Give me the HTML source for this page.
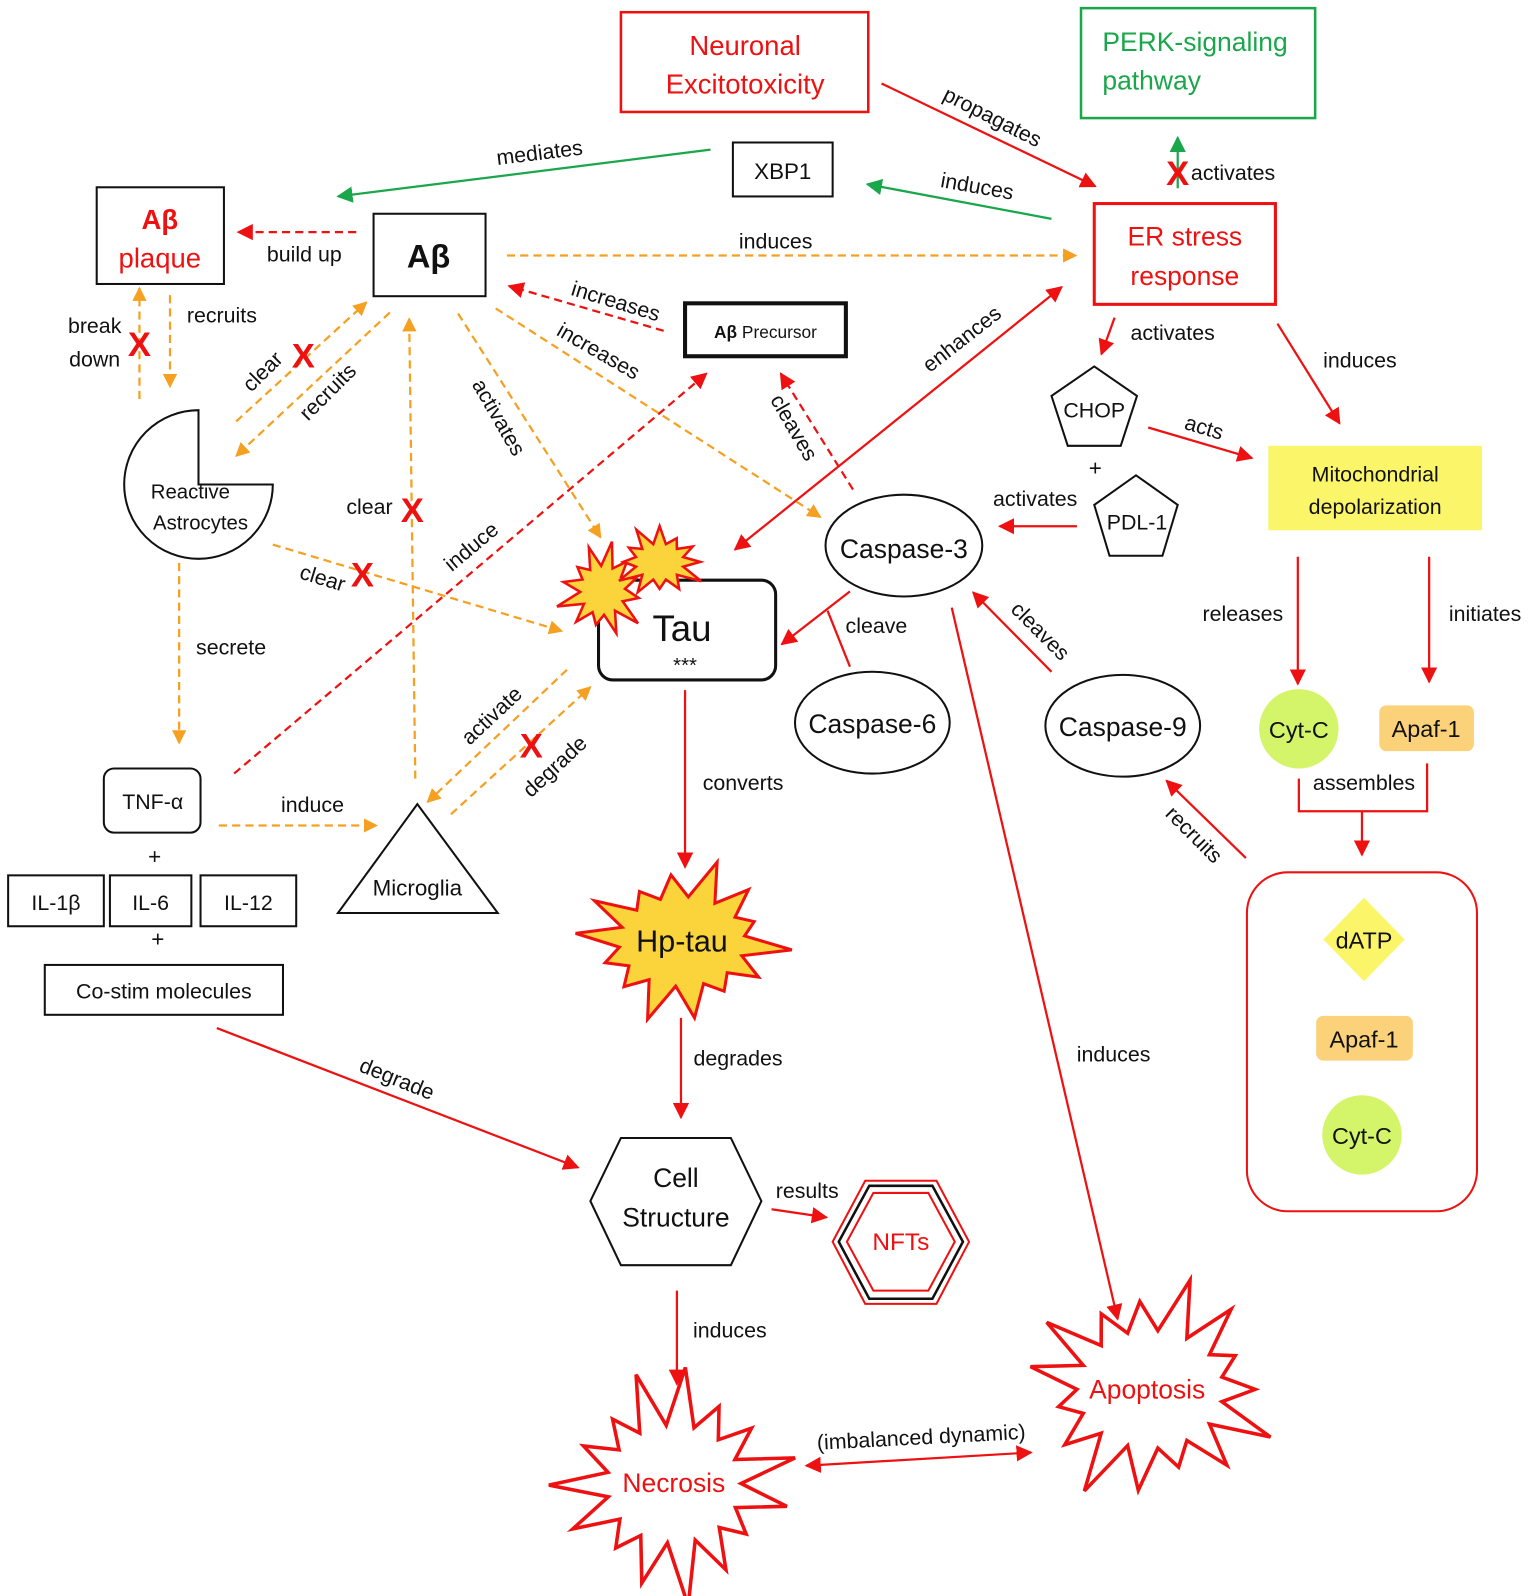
<!DOCTYPE html>
<html><head><meta charset="utf-8"><style>
html,body{margin:0;padding:0;background:#fff}
svg{display:block}
text{font-family:"Liberation Sans",sans-serif;font-size:21px;fill:#111}
.c{text-anchor:middle}
.r{fill:#ee1111}
.g{fill:#1aa64a}
</style></head><body>
<svg id="s" width="1535" height="1596" viewBox="0 0 1508 1568" preserveAspectRatio="none" xmlns="http://www.w3.org/2000/svg">
<defs>
<marker id="mr" viewBox="0 0 10 10" refX="9" refY="5" markerWidth="16" markerHeight="16" markerUnits="userSpaceOnUse" orient="auto-start-reverse"><path d="M0,0L10,5L0,10z" fill="#ee1111"/></marker>
<marker id="mo" viewBox="0 0 10 10" refX="9" refY="5" markerWidth="14" markerHeight="14" markerUnits="userSpaceOnUse" orient="auto-start-reverse"><path d="M0,0L10,5L0,10z" fill="#f5a020"/></marker>
<marker id="mg" viewBox="0 0 10 10" refX="9" refY="5" markerWidth="16" markerHeight="16" markerUnits="userSpaceOnUse" orient="auto-start-reverse"><path d="M0,0L10,5L0,10z" fill="#1aa64a"/></marker>
</defs>
<g fill="none" stroke-width="2.2">
<g stroke="#1aa64a" marker-end="url(#mg)">
<line x1="698" y1="147" x2="332" y2="193"/>
<line x1="1033" y1="215" x2="852" y2="181"/>
<line x1="1157" y1="185" x2="1157" y2="135"/>
</g>
<g stroke="#ee1111" marker-end="url(#mr)">
<line x1="866" y1="82" x2="1076" y2="183"/>
<line x1="1095" y1="312" x2="1082" y2="348"/>
<line x1="1128" y1="420" x2="1230" y2="450"/>
<line x1="1255" y1="318" x2="1316" y2="416"/>
<line x1="1058" y1="517" x2="982" y2="517"/>
<line x1="835" y1="581" x2="768" y2="633"/>
<line x1="1033" y1="660" x2="956" y2="582"/>
<line x1="935" y1="597" x2="1098" y2="1296"/>
<line x1="1224" y1="843" x2="1146" y2="767"/>
<line x1="1275" y1="547" x2="1275" y2="672"/>
<line x1="1404" y1="547" x2="1404" y2="670"/>
<line x1="1338" y1="797" x2="1338" y2="840"/>
<line x1="673" y1="678" x2="673" y2="852"/>
<line x1="669" y1="1000" x2="669" y2="1098"/>
<line x1="213" y1="1010" x2="568" y2="1147"/>
<line x1="758" y1="1188" x2="812" y2="1196"/>
<line x1="665" y1="1268" x2="665" y2="1360"/>
<line x1="722" y1="540" x2="1043" y2="282" marker-start="url(#mr)"/>
<line x1="792" y1="1440" x2="1013" y2="1427" marker-start="url(#mr)"/>
</g>
<path d="M1276 765V797H1402V750" stroke="#ee1111"/>
<line x1="835" y1="655" x2="813" y2="600" stroke="#ee1111"/>
<g stroke="#ee1111" stroke-dasharray="8,5" marker-end="url(#mr)">
<line x1="350" y1="228" x2="234" y2="228"/>
<line x1="652" y1="325" x2="500" y2="281"/>
<line x1="838" y1="481" x2="767" y2="367"/>
<line x1="230" y1="760" x2="694" y2="367"/>
</g>
<g stroke="#f5a020" stroke-dasharray="8,5" marker-end="url(#mo)">
<line x1="498" y1="251" x2="1057" y2="251"/>
<line x1="487" y1="303" x2="806" y2="508"/>
<line x1="450" y1="308" x2="590" y2="528"/>
<line x1="232" y1="414" x2="360" y2="297"/>
<line x1="383" y1="307" x2="232" y2="448"/>
<line x1="137" y1="392" x2="137" y2="283"/>
<line x1="167" y1="290" x2="167" y2="380"/>
<line x1="408" y1="765" x2="402" y2="313"/>
<line x1="268" y1="535" x2="552" y2="620"/>
<line x1="176" y1="553" x2="176" y2="730"/>
<line x1="215" y1="811" x2="370" y2="811"/>
<line x1="557" y1="658" x2="420" y2="788"/>
<line x1="443" y1="800" x2="580" y2="675"/>
</g>
</g>

<g stroke="#111" stroke-width="2" fill="#fff">
<rect x="610" y="12" width="243" height="98" stroke="#ee1111" stroke-width="2.5"/>
<rect x="1062" y="8" width="230" height="108" stroke="#1aa64a" stroke-width="2.5"/>
<rect x="720" y="140" width="98" height="53"/>
<rect x="95" y="184" width="125" height="95"/>
<rect x="367" y="210" width="110" height="81"/>
<rect x="1075" y="200" width="178" height="99" stroke="#ee1111" stroke-width="3"/>
<rect x="673" y="298" width="158" height="52" stroke-width="4"/>
<polygon points="1075,360 1117,389 1101,438 1049,438 1033,389"/>
<polygon points="1116,467 1157,496 1142,546 1090,546 1075,496"/>
<rect x="1246" y="438" width="210" height="83" fill="#fbf56a" stroke="none"/>
<ellipse cx="888" cy="536" rx="77" ry="50"/>
<ellipse cx="857" cy="710" rx="76" ry="50"/>
<ellipse cx="1103" cy="713" rx="76" ry="50"/>
<rect x="588" y="570" width="174" height="98" rx="14" stroke-width="3"/>
<path d="M195,403 A73,73 0 1 0 268,476 L195,476 Z"/>
<rect x="102" y="755" width="95" height="63" rx="10"/>
<rect x="8" y="860" width="94" height="50"/>
<rect x="108" y="860" width="80" height="50"/>
<rect x="197" y="860" width="94" height="50"/>
<rect x="44" y="948" width="234" height="49"/>
<polygon points="410,790 489,897 332,897"/>
<polygon points="580,1180 610,1118 718,1118 748,1180 718,1243 610,1243"/>
<polygon points="818,1220 850,1160 920,1160 952,1220 920,1281 850,1281" stroke="#ee1111"/>
<polygon points="824,1220 854,1165 916,1165 946,1220 916,1276 854,1276" stroke="#111" fill="none" stroke-width="2.5"/>
<polygon points="832,1220 858,1172 912,1172 938,1220 912,1268 858,1268" stroke="#ee1111" fill="none"/>
<circle cx="1276" cy="716" r="39" fill="#d4f56a" stroke="none"/>
<rect x="1355" y="693" width="93" height="45" rx="7" fill="#fbd27a" stroke="none"/>
<rect x="1225" y="857" width="226" height="333" rx="40" stroke="#ee1111"/>
<polygon points="1340,882 1380,923 1340,964 1300,923" fill="#fbf56a" stroke="none"/>
<rect x="1293" y="998" width="95" height="44" rx="7" fill="#fbd27a" stroke="none"/>
<circle cx="1338" cy="1115" r="39" fill="#d4f56a" stroke="none"/>
</g>
<g id="stars"></g>

<text class="c r" x="732" y="54" style="font-size:27px">Neuronal</text>
<text class="c r" x="732" y="92" style="font-size:27px">Excitotoxicity</text>
<text class="g" x="1083" y="50" style="font-size:26px">PERK-signaling</text>
<text class="g" x="1083" y="88" style="font-size:26px">pathway</text>
<text class="c" x="769" y="176" style="font-size:22px">XBP1</text>
<text class="c r" x="157" y="225" style="font-size:27px;font-weight:bold">Aβ</text>
<text class="c r" x="157" y="263" style="font-size:27px">plaque</text>
<text class="c" x="421" y="263" style="font-size:32px;font-weight:bold">Aβ</text>
<text class="c r" x="1164" y="241" style="font-size:26px">ER stress</text>
<text class="c r" x="1164" y="280" style="font-size:26px">response</text>
<text class="c" x="752" y="332" style="font-size:17px"><tspan font-weight="bold">Aβ</tspan> Precursor</text>
<text class="c" x="1075" y="410" style="font-size:21px">CHOP</text>
<text class="c" x="1076" y="467" style="font-size:22px">+</text>
<text class="c" x="1117" y="520" style="font-size:21px">PDL-1</text>
<text class="c" x="1351" y="473" style="font-size:21px">Mitochondrial</text>
<text class="c" x="1351" y="505" style="font-size:21px">depolarization</text>
<text class="c" x="888" y="548" style="font-size:26px">Caspase-3</text>
<text class="c" x="857" y="720" style="font-size:26px">Caspase-6</text>
<text class="c" x="1103" y="723" style="font-size:26px">Caspase-9</text>
<text class="c" x="670" y="630" style="font-size:36px">Tau</text>
<text class="c" x="673" y="660" style="font-size:20px">***</text>
<text class="c" x="187" y="490" style="font-size:20px">Reactive</text>
<text class="c" x="197" y="520" style="font-size:20px">Astrocytes</text>
<text class="c" x="150" y="795" style="font-size:21px">TNF-α</text>
<text class="c" x="152" y="849" style="font-size:22px">+</text>
<text class="c" x="55" y="894" style="font-size:21px">IL-1β</text>
<text class="c" x="148" y="894" style="font-size:21px">IL-6</text>
<text class="c" x="244" y="894" style="font-size:21px">IL-12</text>
<text class="c" x="155" y="930" style="font-size:22px">+</text>
<text class="c" x="161" y="981" style="font-size:21px">Co-stim molecules</text>
<text class="c" x="410" y="880" style="font-size:22px">Microglia</text>
<text class="c" x="664" y="1166" style="font-size:26px">Cell</text>
<text class="c" x="664" y="1205" style="font-size:26px">Structure</text>
<text class="c r" x="885" y="1228" style="font-size:24px">NFTs</text>
<text class="c" x="1276" y="725" style="font-size:23px">Cyt-C</text>
<text class="c" x="1401" y="724" style="font-size:23px">Apaf-1</text>
<text class="c" x="1340" y="932" style="font-size:23px">dATP</text>
<text class="c" x="1340" y="1029" style="font-size:23px">Apaf-1</text>
<text class="c" x="1338" y="1124" style="font-size:23px">Cyt-C</text>

<text class="c" x="530" y="157" transform="rotate(-7 530 150)">mediates</text>
<text class="c" x="960" y="190" transform="rotate(10 960 183)">induces</text>
<text class="c" x="975" y="122" transform="rotate(27 975 115)">propagates</text>
<text x="1170" y="177">activates</text>
<text class="c" x="299" y="257">build up</text>
<text class="c" x="762" y="244">induces</text>
<text class="c" x="605" y="303" transform="rotate(17 605 296)">increases</text>
<text class="c" x="588" y="352" transform="rotate(30 588 345)">increases</text>
<text class="c" x="490" y="417" transform="rotate(60 490 410)">activates</text>
<text class="c" x="780" y="427" transform="rotate(60 780 420)">cleaves</text>
<text class="c" x="945" y="340" transform="rotate(-38 945 333)">enhances</text>
<text class="c" x="463" y="544" transform="rotate(-40 463 537)">induce</text>
<text class="c" x="258" y="372" transform="rotate(-45 258 365)">clear</text>
<text class="c" x="322" y="392" transform="rotate(-45 322 385)">recruits</text>
<text class="c" x="93" y="327">break</text>
<text class="c" x="93" y="360">down</text>
<text class="c" x="218" y="317">recruits</text>
<text class="c" x="363" y="505">clear</text>
<text class="c" x="317" y="575" transform="rotate(17 317 568)">clear</text>
<text class="c" x="227" y="643">secrete</text>
<text class="c" x="307" y="798">induce</text>
<text class="c" x="483" y="710" transform="rotate(-43 483 703)">activate</text>
<text class="c" x="545" y="760" transform="rotate(-43 545 753)">degrade</text>
<text class="c" x="1017" y="497">activates</text>
<text class="c" x="1152" y="334">activates</text>
<text class="c" x="1183" y="427" transform="rotate(17 1183 420)">acts</text>
<text class="c" x="1336" y="361">induces</text>
<text class="c" x="861" y="622">cleave</text>
<text class="c" x="1022" y="627" transform="rotate(45 1022 620)">cleaves</text>
<text class="c" x="1094" y="1043">induces</text>
<text class="c" x="1173" y="827" transform="rotate(45 1173 820)">recruits</text>
<text class="c" x="1221" y="610">releases</text>
<text class="c" x="1459" y="610">initiates</text>
<text class="c" x="1340" y="776">assembles</text>
<text class="c" x="730" y="776">converts</text>
<text class="c" x="725" y="1047">degrades</text>
<text class="c" x="390" y="1067" transform="rotate(22 390 1060)">degrade</text>
<text class="c" x="793" y="1177">results</text>
<text class="c" x="717" y="1314">induces</text>
<text class="c" x="905" y="1419" transform="rotate(-3 905 1412)">(imbalanced dynamic)</text>

<text class="c r" x="1157" y="182" style="font-size:34px;font-weight:bold">X</text>
<text class="c r" x="137" y="350" style="font-size:34px;font-weight:bold">X</text>
<text class="c r" x="298" y="361" style="font-size:34px;font-weight:bold">X</text>
<text class="c r" x="405" y="513" style="font-size:34px;font-weight:bold">X</text>
<text class="c r" x="356" y="576" style="font-size:34px;font-weight:bold">X</text>
<text class="c r" x="522" y="744" style="font-size:34px;font-weight:bold">X</text>
<g id="startext"></g>
</svg>
<script>
(function(){
var NS="http://www.w3.org/2000/svg",g=document.getElementById("stars"),t=document.getElementById("startext");
function star(cx,cy,rx,ry,ix,iy,n,fill,stroke,sw,rot){
 var p=[],seed=n*7+cx;
 for(var i=0;i<2*n;i++){
  var a=(rot||0)+Math.PI*i/n;
  var j=1+0.18*Math.sin(seed+i*2.3);
  var R=i%2==0?1:0; var x=cx+Math.cos(a)*(R?rx*j:ix), y=cy+Math.sin(a)*(R?ry*j:iy);
  p.push(x.toFixed(1)+","+y.toFixed(1));
 }
 var e=document.createElementNS(NS,"polygon");e.setAttribute("points",p.join(" "));
 e.setAttribute("fill",fill);e.setAttribute("stroke",stroke);e.setAttribute("stroke-width",sw);
 g.appendChild(e);
}
star(592,580,40,42,22,24,12,"#fbd33a","#ee1111",2.5,0.2);
star(648,552,40,32,24,18,12,"#fbd33a","#ee1111",2.5,0);
star(670,925,92,70,62,44,14,"#fbd33a","#ee1111",3,0.1);
star(662,1458,105,102,66,58,15,"#fff","#ee1111",3.5,0.2);
star(1130,1365,110,98,72,58,15,"#fff","#ee1111",3.5,0);
function tx(x,y,s,c,txt){var e=document.createElementNS(NS,"text");e.setAttribute("x",x);e.setAttribute("y",y);e.setAttribute("text-anchor","middle");e.setAttribute("style","font-size:"+s+"px;fill:"+c);e.textContent=txt;t.appendChild(e);}
tx(670,935,30,"#111","Hp-tau");
tx(662,1466,26,"#ee1111","Necrosis");
tx(1127,1374,26,"#ee1111","Apoptosis");
})();
</script>
</body></html>
